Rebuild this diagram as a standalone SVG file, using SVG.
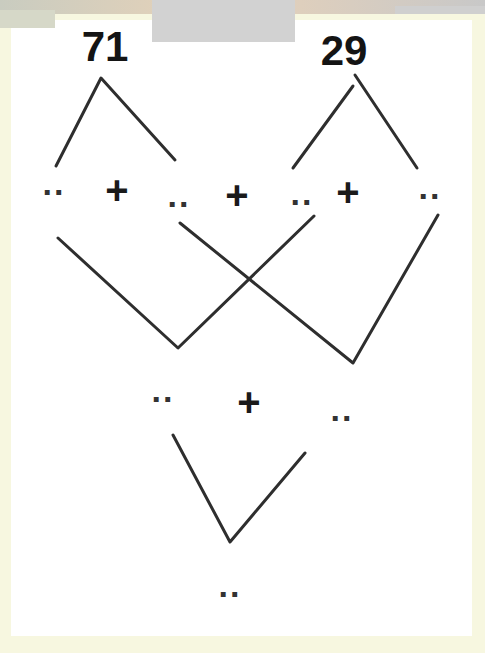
<svg xmlns="http://www.w3.org/2000/svg" width="485" height="653" viewBox="0 0 485 653">
<style>
.num{font-family:"Liberation Sans",Arial,sans-serif;font-weight:bold;font-size:42px;fill:#141414;text-anchor:middle}
.plus{font-family:"Liberation Sans",Arial,sans-serif;font-weight:bold;font-size:40px;fill:#1a1a1a;text-anchor:middle}
.dots{font-family:"Liberation Sans",Arial,sans-serif;font-weight:bold;font-size:34px;fill:#333333;text-anchor:middle;letter-spacing:2px}
.ln{stroke:#2e2e2e;stroke-width:3;fill:none;stroke-linecap:round;stroke-linejoin:round}
</style>
<defs>
<linearGradient id="topg" x1="0" y1="0" x2="1" y2="0">
<stop offset="0" stop-color="#c9ccc0"/>
<stop offset="0.45" stop-color="#e8d2b8"/>
<stop offset="1" stop-color="#c8c8c8"/>
</linearGradient>
</defs>
<g id="background">
<rect x="0" y="0" width="485" height="653" fill="#f7f7e0"/>
<rect x="11" y="20" width="461" height="616" fill="#ffffff"/>
<rect x="0" y="0" width="485" height="14" fill="url(#topg)"/>
<rect x="0" y="10" width="55" height="18" fill="#d6d8c8"/>
<rect x="152" y="0" width="143" height="42" fill="#d2d2d2"/>
<rect x="395" y="6" width="90" height="8" fill="#cfcfcf"/>
</g>
<g id="connectors">
<polyline class="ln" points="56,166 101,78 175,160"/>
<line class="ln" x1="353" y1="86" x2="293" y2="168"/>
<line class="ln" x1="355" y1="75" x2="417" y2="168"/>
<polyline class="ln" points="58,238 178,348 314,216"/>
<polyline class="ln" points="180,223 353,363 438,215"/>
<polyline class="ln" points="173,435 230,542 305,453"/>
</g>
<g id="n71"><text class="num" x="105" y="61">71</text></g>
<g id="n29"><text class="num" x="344" y="65">29</text></g>
<g id="r1a"><text class="dots" x="54" y="195">..</text></g>
<g id="r1p1"><text class="plus" x="117" y="204">+</text></g>
<g id="r1b"><text class="dots" x="179" y="207">..</text></g>
<g id="r1p2"><text class="plus" x="237" y="209">+</text></g>
<g id="r1c"><text class="dots" x="302" y="205">..</text></g>
<g id="r1p3"><text class="plus" x="348" y="206">+</text></g>
<g id="r1d"><text class="dots" x="430" y="199">..</text></g>
<g id="r2a"><text class="dots" x="163" y="402">..</text></g>
<g id="r2p"><text class="plus" x="249" y="416">+</text></g>
<g id="r2b"><text class="dots" x="342" y="421">..</text></g>
<g id="r3"><text class="dots" x="230" y="597">..</text></g>
</svg>
